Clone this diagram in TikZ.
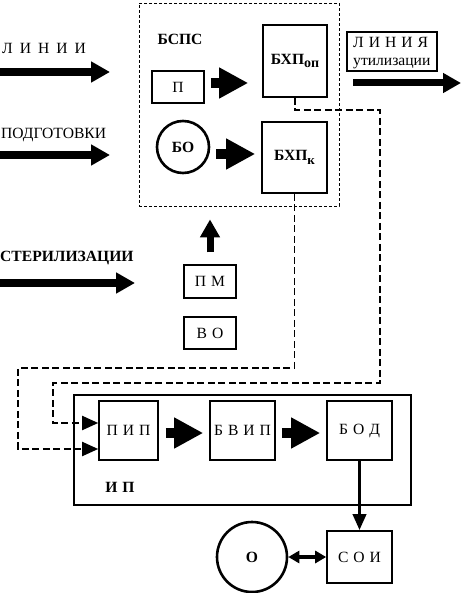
\documentclass[tikz,border=0pt]{standalone}
\usepackage{fontspec}
\setmainfont{Liberation Serif}
\usetikzlibrary{arrows.meta}
\newcommand{\lsp}{\hspace{7pt}}
\newcommand{\isp}{\hspace{5pt}}
\newcommand{\fs}{\fontsize{15.6}{18}\selectfont}
\begin{document}
\begin{tikzpicture}[x=1pt,y=-1pt,
  every node/.style={font=\fs, inner sep=0pt},
  bold/.style={font=\fs\bfseries},
  box/.style={draw, line width=1.6pt, minimum width=#1},
  thinbox/.style={draw, line width=1.1pt},
  circ/.style={draw, circle, line width=2.6pt},
  dsh/.style={line width=1.9pt, dash pattern=on 7pt off 3.5pt, -{Triangle[length=16pt,width=14pt]}},
  bigarrow/.style={line width=8pt, -{Triangle[length=19pt,width=20pt]}},
  blockarrow/.style={line width=10pt, -{Triangle[length=29pt,width=29pt]}},
  thinarrow/.style={line width=3.5pt, -{Triangle[length=16pt,width=13pt]}},
  dblarrow/.style={line width=3.5pt, {Triangle[length=11pt,width=12pt]}-{Triangle[length=11pt,width=12pt]}}
]
\useasboundingbox[fill=white] (0,0) rectangle (462,593);

% BSPS block
\node[draw, line width=0.8pt, dash pattern=on 3pt off 2pt, minimum width=200pt, minimum height=203pt] (bsps) at (239,104.5) {};
\node[bold] (bspsl) at (180,39) {БСПС};
\node[box=52pt, minimum height=32pt] (p) at (178,87) {П};
\node[box=64pt, minimum height=72pt, bold] (bxpop) at (295,61) {БХП\raisebox{-2.5pt}{\fontsize{14}{14}\selectfont оп}};
\node[circ, minimum size=52pt, bold] (bo) at (183,147) {БО};
\node[box=65pt, minimum height=71pt, bold] (bxpk) at (294.5,157.5) {БХП\raisebox{-3.5pt}{\fontsize{13}{13}\selectfont к}};

\draw[blockarrow, shorten <=6pt, shorten >=14pt] ([yshift=4pt]p.east) -- ([yshift=4pt]p.east -| bxpop.west);
\draw[blockarrow, shorten <=6pt, shorten >=6pt] ([yshift=-7pt]bo.east) -- ([yshift=-7pt]bo.east -| bxpk.west);

% left labels and arrows
\node[anchor=west] (l1) at (2,48) {Л\lsp И\lsp Н\lsp И\lsp И};
\node[anchor=west] (l2) at (1,135) {ПОДГОТОВКИ};
\node[anchor=west, bold] (l3) at (0,258) {СТЕРИЛИЗАЦИИ};
\coordinate (a1s) at (0,72);   \coordinate (a1e) at (110,72);
\coordinate (a2s) at (0,155);  \coordinate (a2e) at (110,155);
\coordinate (a3s) at (0,283);  \coordinate (a3e) at (135,283);
\draw[bigarrow] (a1s) -- (a1e);
\draw[bigarrow] (a2s) -- (a2e);
\draw[bigarrow] (a3s) -- (a3e);

% utilization line
\node[thinbox, minimum width=90pt, minimum height=39pt] (lu) at (392,51.5) {};
\node[anchor=north west, align=left, font=\fontsize{15.6}{18}\selectfont] (lut) at (353,37) {Л\isp И\isp Н\isp И\isp Я\\утилизации};
\coordinate (rs) at (353,83); \coordinate (re) at (461,83);
\draw[line width=7pt, -{Triangle[length=18pt,width=19pt]}] (rs) -- (re);

% PM, VO
\node[thinbox, minimum width=52pt, minimum height=33pt] (pm) at (210,281.5) {П\isp М};
\node[thinbox, minimum width=52pt, minimum height=32pt] (vo) at (210,333) {В\isp О};
\draw[line width=7pt, -{Triangle[length=18pt,width=19pt]}, shorten <=12pt, shorten >=13pt] (pm.north) -- (pm.north |- bsps.south);

% IP block
\node[box=337pt, minimum height=110pt] (ip) at (242.5,450) {};
\node[bold] (ipl) at (120,487) {И\isp П};
\node[box=59pt, minimum height=59pt] (pip) at (128.5,430.5) {П\isp И\isp П};
\node[box=65pt, minimum height=59pt] (bvip) at (242.5,430.5) {Б\isp В\isp И\isp П};
\node[box=65pt, minimum height=59pt] (bod) at (359.5,430.5) {Б\isp О\isp Д};
\draw[blockarrow, shorten <=7pt, shorten >=6pt] ([yshift=-2.5pt]pip.east) -- ([yshift=-2.5pt]pip.east -| bvip.west);
\draw[blockarrow, shorten <=6pt, shorten >=6pt] ([yshift=-2.5pt]bvip.east) -- ([yshift=-2.5pt]bvip.east -| bod.west);

% output
\node[box=65pt, minimum height=52pt] (soi) at (359.5,557) {С\isp О\isp И};
\node[circ, minimum size=70pt, bold] (o) at (252,557) {О};
\draw[thinarrow] (bod.south) -- (soi.north);
\draw[dblarrow] (o.east) -- (soi.west);

% dashed connections
\draw[dsh] (bxpk.south) -- (294.5,368) -- (18,368) |- ([yshift=-18.5pt]pip.west);
\draw[dsh] (bxpop.south) |- (380,110) -- (380,383) -- (53,383) |- ([yshift=7.5pt]pip.west);
\end{tikzpicture}
\end{document}
